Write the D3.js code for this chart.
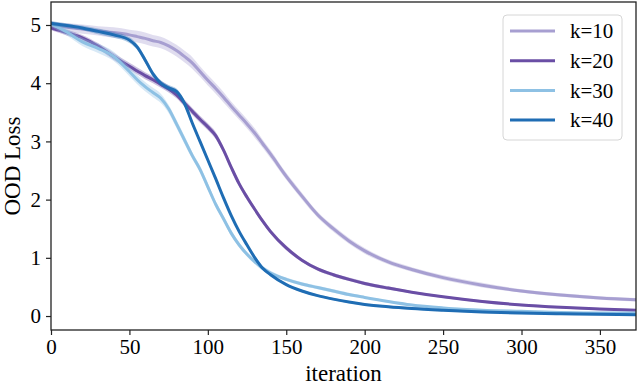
<!DOCTYPE html>
<html>
<head>
<meta charset="utf-8">
<script src="https://cdn.jsdelivr.net/npm/d3@7"></script>
<style>
  body { margin: 0; background: #fff; }
</style>
</head>
<body>
<svg id="chart" width="640" height="386"></svg>
<script>
// iteration grid shared by all curves
const iters = [0, 10, 20, 30, 40, 50, 55, 60, 65, 70, 75, 80, 85, 90, 95, 100, 105, 110, 115, 120,
  125, 130, 135, 140, 150, 160, 170, 180, 190, 200, 215, 230, 250, 275, 300, 325, 350, 373];

// mean OOD loss for each k
const k10 = [5.00, 4.96, 4.93, 4.90, 4.87, 4.83, 4.80, 4.77, 4.73, 4.70, 4.64, 4.56, 4.46, 4.35, 4.20, 4.05, 3.91, 3.76, 3.60, 3.45,
  3.30, 3.14, 2.96, 2.78, 2.40, 2.06, 1.74, 1.50, 1.29, 1.12, 0.93, 0.80, 0.66, 0.53, 0.43, 0.36, 0.31, 0.28];
const k20 = [4.95, 4.87, 4.78, 4.64, 4.46, 4.29, 4.21, 4.13, 4.06, 3.98, 3.90, 3.80, 3.66, 3.52, 3.38, 3.25, 3.10, 2.85, 2.55, 2.27,
  2.04, 1.83, 1.63, 1.45, 1.17, 0.96, 0.81, 0.71, 0.63, 0.56, 0.48, 0.41, 0.33, 0.25, 0.19, 0.15, 0.12, 0.10];
const k30 = [5.02, 4.88, 4.71, 4.60, 4.46, 4.20, 4.06, 3.94, 3.84, 3.74, 3.56, 3.30, 3.03, 2.76, 2.52, 2.22, 1.92, 1.67, 1.42, 1.22,
  1.06, 0.93, 0.82, 0.74, 0.63, 0.55, 0.49, 0.43, 0.37, 0.32, 0.25, 0.19, 0.14, 0.10, 0.08, 0.06, 0.05, 0.05];
const k40 = [5.03, 4.99, 4.95, 4.89, 4.83, 4.74, 4.62, 4.40, 4.16, 4.00, 3.92, 3.86, 3.66, 3.32, 3.00, 2.68, 2.36, 2.03, 1.72, 1.45,
  1.22, 1.00, 0.82, 0.71, 0.54, 0.43, 0.35, 0.29, 0.24, 0.20, 0.16, 0.13, 0.10, 0.07, 0.05, 0.04, 0.03, 0.02];

// spread of the individual runs around the mean (half width)
const s10 = [0.06, 0.07, 0.08, 0.08, 0.09, 0.09, 0.10, 0.10, 0.10, 0.10, 0.10, 0.10, 0.10, 0.10, 0.09, 0.09, 0.09, 0.09, 0.08, 0.08,
  0.08, 0.08, 0.07, 0.07, 0.06, 0.06, 0.05, 0.05, 0.05, 0.05, 0.04, 0.04, 0.04, 0.04, 0.03, 0.03, 0.03, 0.03];
const s20 = [0.04, 0.05, 0.05, 0.05, 0.06, 0.06, 0.06, 0.06, 0.06, 0.06, 0.06, 0.06, 0.06, 0.06, 0.06, 0.06, 0.06, 0.05, 0.05, 0.05,
  0.05, 0.04, 0.04, 0.04, 0.04, 0.03, 0.03, 0.03, 0.03, 0.03, 0.03, 0.02, 0.02, 0.02, 0.02, 0.02, 0.02, 0.02];
const s30 = [0.05, 0.06, 0.07, 0.08, 0.08, 0.08, 0.08, 0.08, 0.08, 0.08, 0.07, 0.07, 0.07, 0.06, 0.06, 0.06, 0.05, 0.05, 0.05, 0.04,
  0.04, 0.04, 0.04, 0.04, 0.03, 0.03, 0.03, 0.03, 0.03, 0.02, 0.02, 0.02, 0.02, 0.02, 0.02, 0.02, 0.02, 0.02];
const s40 = [0.04, 0.04, 0.04, 0.05, 0.05, 0.05, 0.05, 0.05, 0.05, 0.05, 0.05, 0.05, 0.05, 0.04, 0.04, 0.04, 0.04, 0.03, 0.03, 0.03,
  0.03, 0.03, 0.03, 0.02, 0.02, 0.02, 0.02, 0.02, 0.02, 0.02, 0.02, 0.02, 0.02, 0.02, 0.02, 0.02, 0.02, 0.02];

const labels = ["k=10", "k=20", "k=30", "k=40"];
const colors = ["#a79fd1", "#6a4ea5", "#8ec1e4", "#1f6db4"];
const xTicks = [0, 50, 100, 150, 200, 250, 300, 350];
const yTicks = [0, 1, 2, 3, 4, 5];

const serif = "'Liberation Serif', 'Times New Roman', serif";

const series = [k10, k20, k30, k40].map((v, j) => ({
  label: labels[j],
  color: colors[j],
  values: iters.map((it, i) => ({ it, y: v[i], s: [s10, s20, s30, s40][j][i] }))
}));

// plot area
const mLeft = 51, mRight = 636, mTop = 2, mBottom = 330;

const svg = d3.select("#chart").attr("font-family", serif);

const x = d3.scaleLinear().domain([0, 373]).range([mLeft, mRight]);
const y = d3.scaleLinear().domain([-0.24, 5.395]).range([mBottom, mTop]);

const line = d3.line()
    .x(d => x(d.it))
    .y(d => y(d.y))
    .curve(d3.curveMonotoneX);

const band = d3.area()
    .x(d => x(d.it))
    .y0(d => y(d.y - d.s))
    .y1(d => y(d.y + d.s))
    .curve(d3.curveMonotoneX);

svg.append("defs").append("clipPath").attr("id", "clip")
  .append("rect")
    .attr("x", mLeft).attr("y", mTop)
    .attr("width", mRight - mLeft).attr("height", mBottom - mTop);

const plot = svg.append("g").attr("clip-path", "url(#clip)");

// shaded bands of the runs, then the mean lines
series.forEach(s => {
  plot.append("path")
      .datum(s.values)
      .attr("d", band)
      .attr("fill", s.color)
      .attr("fill-opacity", 0.35);
  plot.append("path")
      .datum(s.values)
      .attr("d", line)
      .attr("fill", "none")
      .attr("stroke", s.color)
      .attr("stroke-width", 3)
      .attr("stroke-linejoin", "round");
});

// axes
svg.append("g")
    .attr("transform", `translate(0,${mBottom})`)
    .call(d3.axisBottom(x).tickValues(xTicks).tickFormat(d3.format("d")).tickSize(5).tickPadding(4).tickSizeOuter(0))
    .attr("font-family", serif)
    .attr("font-size", 21)
    .call(g => g.select(".domain").remove())
    .call(g => g.selectAll(".tick line").attr("stroke", "#222").attr("stroke-width", 1.2))
    .call(g => g.selectAll("text").attr("fill", "#000"));

svg.append("g")
    .attr("transform", `translate(${mLeft},0)`)
    .call(d3.axisLeft(y).tickValues(yTicks).tickFormat(d3.format("d")).tickSize(5).tickPadding(5).tickSizeOuter(0))
    .attr("font-family", serif)
    .attr("font-size", 21)
    .call(g => g.select(".domain").remove())
    .call(g => g.selectAll(".tick line").attr("stroke", "#222").attr("stroke-width", 1.2))
    .call(g => g.selectAll("text").attr("fill", "#000"));

// frame
svg.append("rect")
    .attr("x", mLeft).attr("y", mTop)
    .attr("width", mRight - mLeft).attr("height", mBottom - mTop)
    .attr("fill", "none")
    .attr("stroke", "#222")
    .attr("stroke-width", 1.3);

// axis titles
svg.append("text")
    .attr("x", (mLeft + mRight) / 2)
    .attr("y", 381)
    .attr("text-anchor", "middle")
    .attr("font-size", 23)
    .text("iteration");

svg.append("text")
    .attr("transform", `translate(20,${(mTop + mBottom) / 2}) rotate(-90)`)
    .attr("text-anchor", "middle")
    .attr("font-size", 23)
    .text("OOD Loss");

// legend
const legend = svg.append("g").attr("transform", "translate(503,15)");
legend.append("rect")
    .attr("width", 119).attr("height", 125)
    .attr("rx", 4)
    .attr("fill", "#fff").attr("fill-opacity", 0.8)
    .attr("stroke", "#d6d6d6");

const item = legend.selectAll(".item")
  .data(series)
  .join("g")
    .attr("class", "item")
    .attr("transform", (d, i) => `translate(0,${16 + i * 29.7})`);

item.append("line")
    .attr("x1", 7).attr("x2", 52)
    .attr("stroke", d => d.color)
    .attr("stroke-width", 3);

item.append("text")
    .attr("x", 67)
    .attr("dy", "0.35em")
    .attr("font-size", 21)
    .text(d => d.label);
</script>
</body>
</html>
